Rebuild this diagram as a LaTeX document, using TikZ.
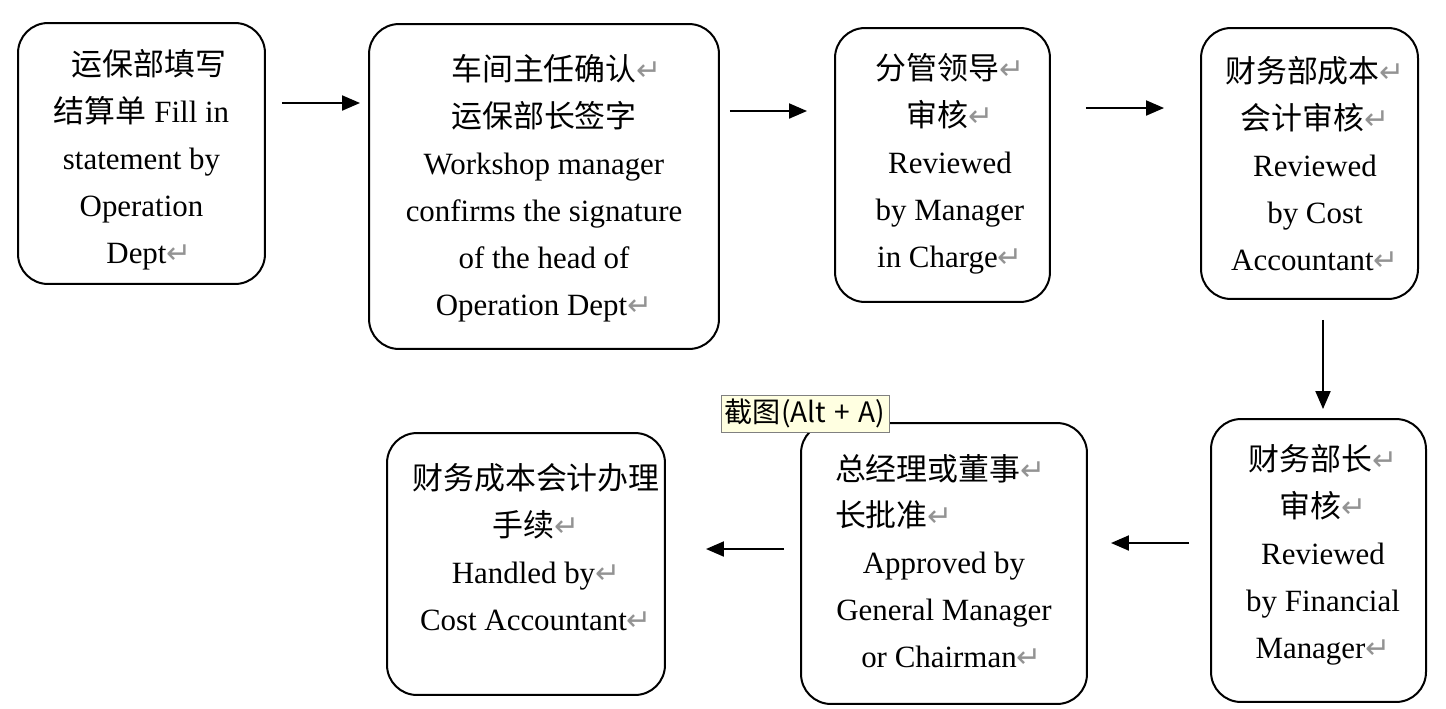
\documentclass[tikz,border=0pt]{standalone}
\usepackage{fontspec}
\setmainfont{Liberation Serif}
\newfontfamily\cjk{Noto Sans CJK SC}
\newfontfamily\markfont{DejaVu Sans}
\usetikzlibrary{arrows.meta}
\definecolor{tipfill}{RGB}{255,255,225}
\newcommand\bodysize{\fontsize{17.6pt}{26.7pt}\selectfont}
\newcommand\crmark{{\markfont\fontsize{17pt}{26.7pt}\selectfont\textcolor{gray!85}{↵}}}

\begin{document}
\begin{tikzpicture}[x=0.02cm, y=-0.02cm, >={Triangle[length=0.36cm,width=0.3cm]},
   stage/.style={rounded corners=0.6cm, line width=0.04cm},
   words/.style={align=center, inner sep=0pt, font=\bodysize},
   flow/.style={->, line width=0.04cm}]
   \useasboundingbox (0,0) rectangle (1446,708);
   % boxes
   \node (b1) at (141.5,153.5) [draw, stage, minimum width=4.94cm, minimum height=5.22cm] {};
   \node (b2) at (544,186.5) [draw, stage, minimum width=7.00cm, minimum height=6.50cm] {};
   \node (b3) at (942.5,165) [draw, stage, minimum width=4.30cm, minimum height=5.48cm] {};
   \node (b4) at (1309.5,163.5) [draw, stage, minimum width=4.34cm, minimum height=5.42cm] {};
   \node (b5) at (1318.5,560.5) [draw, stage, minimum width=4.30cm, minimum height=5.66cm] {};
   \node (b6) at (944,563.5) [draw, stage, minimum width=5.72cm, minimum height=5.62cm] {};
   \node (b7) at (526,564) [draw, stage, minimum width=5.56cm, minimum height=5.24cm] {};
   % texts
   \node (t1) at (141.5,160) [words] {\hspace*{0.3cm}{\cjk 运保部填写}\\{\cjk 结算单} Fill in\\statement by\\Operation\\\hspace*{0.3cm}Dept\crmark};
   \node (t2) at (544,188) [words] {\hspace*{0.5cm}{\cjk 车间主任确认}\crmark\\{\cjk 运保部长签字}\\Workshop manager\\confirms the signature\\of the head of\\Operation Dept\crmark};
   \node (t3) at (950,164) [words] {{\cjk 分管领导}\crmark\\{\cjk 审核}\crmark\\Reviewed\\by Manager\\in Charge\crmark};
   \node (t4) at (1315,163.5) [words] {{\cjk 财务部成本}\crmark\\{\cjk 会计审核}\crmark\\Reviewed\\by Cost\\Accountant\crmark};
   \node (t5) at (1323,555) [words] {{\cjk 财务部长}\crmark\\{\cjk 审核}\crmark\\Reviewed\\by Financial\\Manager\crmark};
   \node (t6) at (944,561) [words] {\makebox[4.36cm][l]{{\cjk 总经理或董事}\crmark}\\\makebox[4.36cm][l]{{\cjk 长批准}\crmark}\\Approved by\\General Manager\\\hspace*{0.3cm}or Chairman\crmark};
   \node (t7) at (536,547) [words] {{\cjk 财务成本会计办理}\\{\cjk 手续}\crmark\\Handled by\crmark\\Cost Accountant\crmark};
   % arrows
   \coordinate (r1) at (0,103);
   \coordinate (r2) at (0,111);
   \coordinate (r3) at (0,108);
   \coordinate (c4) at (1323,0);
   \coordinate (r5) at (0,543);
   \coordinate (r6) at (0,549);
   \draw[flow, shorten <=0.32cm, shorten >=0.16cm] (b1.east |- r1) -- (b2.west |- r1);
   \draw[flow, shorten <=0.20cm, shorten >=0.54cm] (b2.east |- r2) -- (b3.west |- r2);
   \draw[flow, shorten <=0.70cm, shorten >=0.72cm] (b3.east |- r3) -- (b4.west |- r3);
   \draw[flow, shorten <=0.40cm, shorten >=0.18cm] (b4.south -| c4) -- (b5.north -| c4);
   \draw[flow, shorten <=0.42cm, shorten >=0.46cm] (b5.west |- r5) -- (b6.east |- r5);
   \draw[flow, shorten <=0.32cm, shorten >=0.80cm] (b6.west |- r6) -- (b7.east |- r6);
   % tooltip
   \node (tip) at (805,413.5) [draw=gray, fill=tipfill, minimum width=3.36cm, minimum height=0.74cm, inner sep=1pt, font=\cjk\fontsize{16pt}{18pt}\selectfont] {截图(Alt\hspace{0.3em}+\hspace{0.3em}A)};
\end{tikzpicture}
\end{document}
